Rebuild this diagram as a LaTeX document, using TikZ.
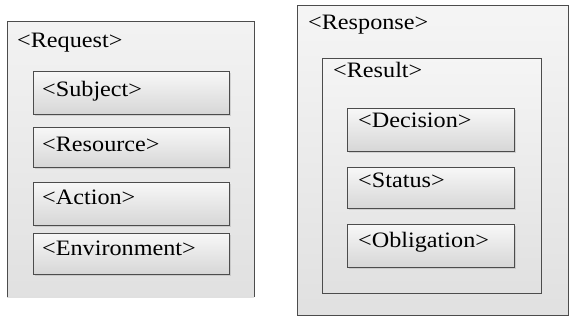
\documentclass[tikz,border=0pt]{standalone}
\usepackage{fontspec}
\setmainfont[FakeStretch=1.1]{Liberation Serif}
\usetikzlibrary{shadows}
\tikzset{
  outer/.style={anchor=north west, inner sep=0pt, top color=gray!10, bottom color=gray!24},
  frame/.style={draw=black!70, line width=1pt, anchor=north west, inner sep=0pt,
    top color=gray!8, bottom color=gray!24},
  elem/.style={draw=black!70, line width=1.1pt, anchor=north west, inner sep=0pt,
    top color=gray!6, bottom color=gray!32,
    drop shadow={opacity=0.25, shadow xshift=1pt, shadow yshift=-1pt}},
  tag/.style={anchor=base west, inner sep=0pt, font=\fontsize{22}{24}\selectfont}
}
\begin{document}
\begin{tikzpicture}[x=1pt,y=-1pt]
  \useasboundingbox (0,0) rectangle (570,320);
  % request side
  \node[outer, minimum width=247pt, minimum height=275pt] (req) at (7,22) {};
  \draw[black!70, line width=1pt] (req.south west) -- (req.north west) -- (req.north east) -- (req.south east);
  \node[tag] (reqtag) at (17,48) {<Request>};
  \node[elem, minimum width=196pt, minimum height=43pt] (subj) at (33,71) {};
  \node[elem, minimum width=196pt, minimum height=40pt] (res) at (33,127) {};
  \node[elem, minimum width=196pt, minimum height=43pt] (act) at (33,182) {};
  \node[elem, minimum width=196pt, minimum height=41pt] (env) at (33,233) {};
  \node[tag] (subjtag) at (42,97) {<Subject>};
  \node[tag] (restag) at (42,152) {<Resource>};
  \node[tag] (acttag) at (42,205) {<Action>};
  \node[tag] (envtag) at (42,256) {<Environment>};
  % response side
  \node[frame, minimum width=271pt, minimum height=310pt] (resp) at (297,5) {};
  \node[tag] (resptag) at (308,30) {<Response>};
  \node[frame, minimum width=219pt, minimum height=235pt] (result) at (322,58) {};
  \node[tag] (resulttag) at (333,78) {<Result>};
  \node[elem, minimum width=167pt, minimum height=43pt] (dec) at (347,108) {};
  \node[elem, minimum width=167pt, minimum height=41pt] (stat) at (347,167) {};
  \node[elem, minimum width=167pt, minimum height=43pt] (obl) at (347,224) {};
  \node[tag] (dectag) at (358,128) {<Decision>};
  \node[tag] (stattag) at (358,188) {<Status>};
  \node[tag] (obltag) at (358,248) {<Obligation>};
\end{tikzpicture}
\end{document}
